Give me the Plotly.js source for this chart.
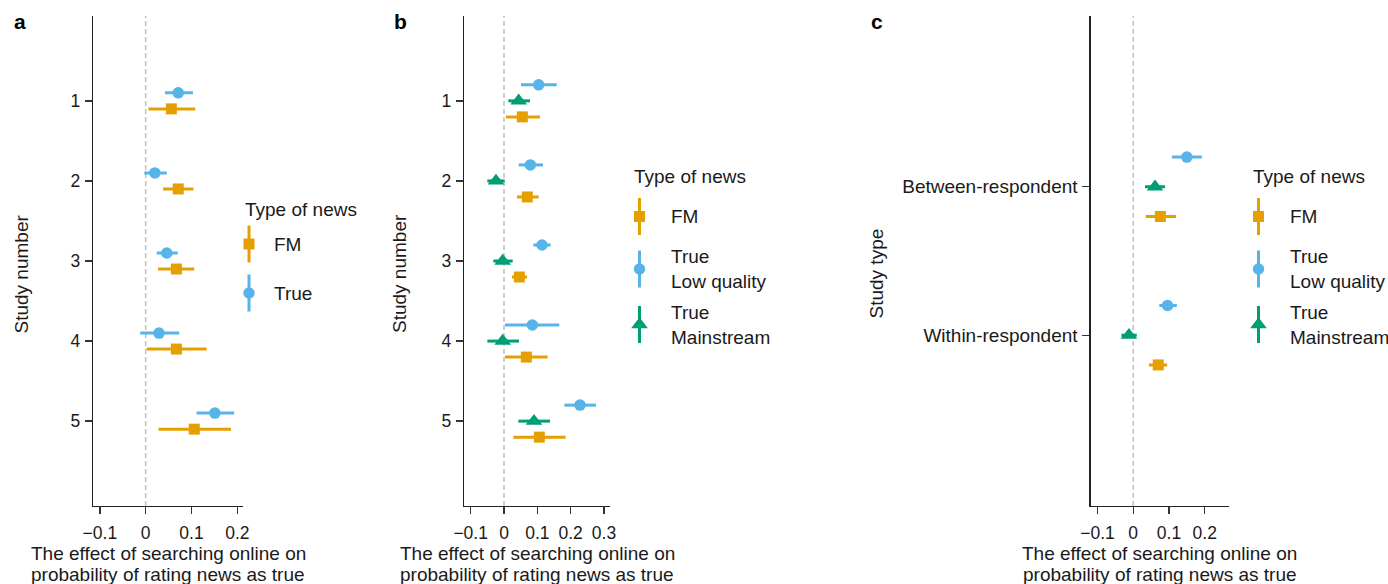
<!DOCTYPE html>
<html>
<head>
<meta charset="utf-8">
<script src="https://cdn.plot.ly/plotly-3.0.1.min.js"></script>
<style>
  html, body { margin: 0; padding: 0; background: #fff; }
  #chart { width: 1388px; height: 584px; }
</style>
</head>
<body>
<div id="chart"></div>
<script>
// ---- Data: effect estimates with 95% intervals ----
// Panel a: by study, FM vs true news
const studies = [1, 2, 3, 4, 5];
const aFM      = [0.056, 0.071, 0.067, 0.067, 0.106];
const aFMLo    = [0.006, 0.038, 0.027, 0.002, 0.028];
const aFMHi    = [0.108, 0.104, 0.106, 0.133, 0.186];
const aTrue    = [0.071, 0.020, 0.046, 0.029, 0.151];
const aTrueLo  = [0.042, -0.003, 0.024, -0.012, 0.111];
const aTrueHi  = [0.103, 0.046, 0.070, 0.073, 0.193];

// Panel b: by study, FM vs low-quality true vs mainstream true
const bFM      = [0.055, 0.070, 0.046, 0.067, 0.106];
const bFMLo    = [0.006, 0.039, 0.024, 0.003, 0.028];
const bFMHi    = [0.108, 0.104, 0.069, 0.131, 0.185];
const bLow     = [0.104, 0.079, 0.114, 0.085, 0.228];
const bLowLo   = [0.051, 0.044, 0.088, 0.003, 0.181];
const bLowHi   = [0.158, 0.117, 0.140, 0.166, 0.276];
const bMain    = [0.044, -0.024, -0.004, -0.004, 0.090];
const bMainLo  = [0.013, -0.050, -0.032, -0.050, 0.043];
const bMainHi  = [0.078, 0.002, 0.026, 0.045, 0.138];

// Panel c: by study design
const studyTypes = ['Between-respondent', 'Within-respondent'];
const typePos  = [1, 2];
const cFM      = [0.076, 0.070];
const cFMLo    = [0.035, 0.044];
const cFMHi    = [0.120, 0.095];
const cLow     = [0.150, 0.096];
const cLowLo   = [0.108, 0.073];
const cLowHi   = [0.192, 0.122];
const cMain    = [0.061, -0.012];
const cMainLo  = [0.033, -0.033];
const cMainHi  = [0.089, 0.010];

const xTicks = [-0.1, 0, 0.1, 0.2, 0.3];
const xTitleLines = ['The effect of searching online on', 'probability of rating news as true'];

// ---- Style ----
const FONT = 'Liberation Sans, Arial, Helvetica, sans-serif';
const INK = '#1a1a1a';
const COL = { fm: '#E69F00', low: '#56B4E9', main: '#009E73' };
const W = 1388, H = 584;
const TITLE_SIZE = 19, TICK_SIZE = 17.5, CAT_TICK_SIZE = 19, LABEL_SIZE = 19;

function offset(arr, d) { return arr.map(v => v + d); }

const SZ = { square: 11, circle: 11.5, 'triangle-up': 14.5 };

function pointRange(xs, lo, hi, ys, color, symbol, xa, ya) {
  return {
    type: 'scatter', mode: 'markers', x: xs, y: ys, xaxis: xa, yaxis: ya,
    marker: { color: color, symbol: symbol, size: SZ[symbol], line: { width: 0 } },
    error_x: {
      type: 'data', symmetric: false,
      array: hi.map((h, i) => h - xs[i]),
      arrayminus: lo.map((l, i) => xs[i] - l),
      color: color, thickness: 3, width: 0
    },
    showlegend: false, hoverinfo: 'skip', cliponaxis: false
  };
}

const traces = [
  // panel a
  pointRange(aFM, aFMLo, aFMHi, offset(studies, 0.1), COL.fm, 'square', 'x', 'y'),
  pointRange(aTrue, aTrueLo, aTrueHi, offset(studies, -0.1), COL.low, 'circle', 'x', 'y'),
  // panel b
  pointRange(bFM, bFMLo, bFMHi, offset(studies, 0.2), COL.fm, 'square', 'x2', 'y2'),
  pointRange(bLow, bLowLo, bLowHi, offset(studies, -0.2), COL.low, 'circle', 'x2', 'y2'),
  pointRange(bMain, bMainLo, bMainHi, studies, COL.main, 'triangle-up', 'x2', 'y2'),
  // panel c
  pointRange(cFM, cFMLo, cFMHi, offset(typePos, 0.2), COL.fm, 'square', 'x3', 'y3'),
  pointRange(cLow, cLowLo, cLowHi, offset(typePos, -0.2), COL.low, 'circle', 'x3', 'y3'),
  pointRange(cMain, cMainLo, cMainHi, typePos, COL.main, 'triangle-up', 'x3', 'y3')
];

// ---- Legend keys on a pixel overlay axis (x4/y4) ----
function legendKey(px, py, half, color, symbol) {
  return {
    type: 'scatter', mode: 'markers', x: [px], y: [py], xaxis: 'x4', yaxis: 'y4',
    marker: { color: color, symbol: symbol, size: SZ[symbol], line: { width: 0 } },
    error_y: { type: 'data', symmetric: true, array: [half], color: color, thickness: 3, width: 0 },
    showlegend: false, hoverinfo: 'skip', cliponaxis: false
  };
}

const legends = [
  { titleX: 243, titleY: 209, keyX: 249, textX: 271.5,
    items: [ { y: 244, sym: 'square', col: COL.fm, text: 'FM' },
             { y: 293, sym: 'circle', col: COL.low, text: 'True' } ] },
  { titleX: 632, titleY: 176, keyX: 639.5, textX: 669,
    items: [ { y: 216.5, sym: 'square', col: COL.fm, text: 'FM' },
             { y: 269, sym: 'circle', col: COL.low, text: 'True<br>Low quality' },
             { y: 324.5, sym: 'triangle-up', col: COL.main, text: 'True<br>Mainstream' } ] },
  { titleX: 1251, titleY: 176, keyX: 1258.5, textX: 1288,
    items: [ { y: 216.5, sym: 'square', col: COL.fm, text: 'FM' },
             { y: 269, sym: 'circle', col: COL.low, text: 'True<br>Low quality' },
             { y: 324.5, sym: 'triangle-up', col: COL.main, text: 'True<br>Mainstream' } ] }
];

const annotations = [];
function pxAnn(x, y, text, opts) {
  annotations.push(Object.assign({
    xref: 'x4', yref: 'y4', x: x, y: y, text: text, showarrow: false,
    xanchor: 'left', yanchor: 'middle',
    font: { family: FONT, size: LABEL_SIZE, color: INK }
  }, opts || {}));
}

legends.forEach(lg => {
  pxAnn(lg.titleX, lg.titleY, 'Type of news', { font: { family: FONT, size: TITLE_SIZE, color: INK } });
  lg.items.forEach(it => {
    traces.push(legendKey(lg.keyX, it.y, 18.5, it.col, it.sym));
    pxAnn(lg.textX, it.y, it.text, { align: 'left' });
  });
});

// panel letters
[['a', 12], ['b', 391.5], ['c', 869]].forEach(([t, x]) => {
  pxAnn(x, 21, '<b>' + t + '</b>', { font: { family: FONT, size: 21, color: '#000' } });
});

// axis titles
const panels = [
  { x0: 93, x1: 243.3, ytitle: 'Study number', ytx: 20.5 },
  { x0: 464, x1: 610, ytitle: 'Study number', ytx: 399 },
  { x0: 1090.7, x1: 1229, ytitle: 'Study type', ytx: 875.5 }
];
panels.forEach(p => {
  const cx = (p.x0 + p.x1) / 2;
  pxAnn(cx, 553, xTitleLines[0], { xanchor: 'center', font: { family: FONT, size: TITLE_SIZE, color: INK } });
  pxAnn(cx, 574, xTitleLines[1], { xanchor: 'center', font: { family: FONT, size: TITLE_SIZE, color: INK } });
  pxAnn(p.ytx, 274, p.ytitle, { xanchor: 'center', textangle: -90, font: { family: FONT, size: TITLE_SIZE, color: INK } });
});

// ---- Axes ----
const yTop = 1 - 16 / H, yBot = 1 - 506 / H;
function fmtTick(v) { return v === 0 ? '0' : (v < 0 ? '\u2212' + Math.abs(v) : String(v)); }
function xAxis(x0, x1, range, anchor) {
  const vals = xTicks.filter(v => v >= range[0] && v <= range[1]);
  return {
    domain: [x0 / W, x1 / W], range: range, anchor: anchor,
    showline: true, linecolor: '#222', linewidth: 1.3, mirror: false,
    showgrid: false, zeroline: false,
    ticks: 'outside', ticklen: 7, tickwidth: 1.3, tickcolor: '#333',
    tickmode: 'array', tickvals: vals, ticktext: vals.map(fmtTick),
    tickfont: { family: FONT, size: TICK_SIZE, color: INK }, ticklabelstandoff: 4,
    fixedrange: true
  };
}
function yAxis(range, vals, text, anchor, size) {
  return {
    domain: [yBot, yTop], range: range, anchor: anchor,
    showline: true, linecolor: '#222', linewidth: 1.3, mirror: false,
    showgrid: false, zeroline: false,
    ticks: 'outside', ticklen: 7, tickwidth: 1.3, tickcolor: '#333',
    tickmode: 'array', tickvals: vals, ticktext: text,
    tickfont: { family: FONT, size: size, color: INK }, ticklabelstandoff: 1,
    fixedrange: true
  };
}

const zeroLine = xr => ({
  type: 'line', xref: xr, yref: 'paper', x0: 0, x1: 0, y0: yBot, y1: yTop,
  line: { color: '#c4c4c4', width: 1.6, dash: '5px,3px' }, layer: 'below'
});

const layout = {
  width: W, height: H,
  margin: { l: 0, r: 0, t: 0, b: 0, pad: 0 },
  paper_bgcolor: '#ffffff', plot_bgcolor: 'rgba(0,0,0,0)',
  showlegend: false,
  font: { family: FONT, color: INK },
  xaxis:  xAxis(93, 243.3, [-0.115, 0.213], 'y'),
  yaxis:  yAxis([6.06, -0.06], studies, studies.map(String), 'x', TICK_SIZE),
  xaxis2: xAxis(464, 610, [-0.12, 0.318], 'y2'),
  yaxis2: yAxis([6.06, -0.06], studies, studies.map(String), 'x2', TICK_SIZE),
  xaxis3: xAxis(1090.7, 1229, [-0.119, 0.268], 'y3'),
  yaxis3: yAxis([3.15, -0.15], typePos, studyTypes, 'x3', CAT_TICK_SIZE),
  xaxis4: { domain: [0, 1], range: [0, W], anchor: 'y4', visible: false, fixedrange: true },
  yaxis4: { domain: [0, 1], range: [H, 0], anchor: 'x4', visible: false, fixedrange: true },
  shapes: [zeroLine('x'), zeroLine('x2'), zeroLine('x3')],
  annotations: annotations
};

Plotly.newPlot('chart', traces, layout, { staticPlot: true, displayModeBar: false });
</script>
</body>
</html>
